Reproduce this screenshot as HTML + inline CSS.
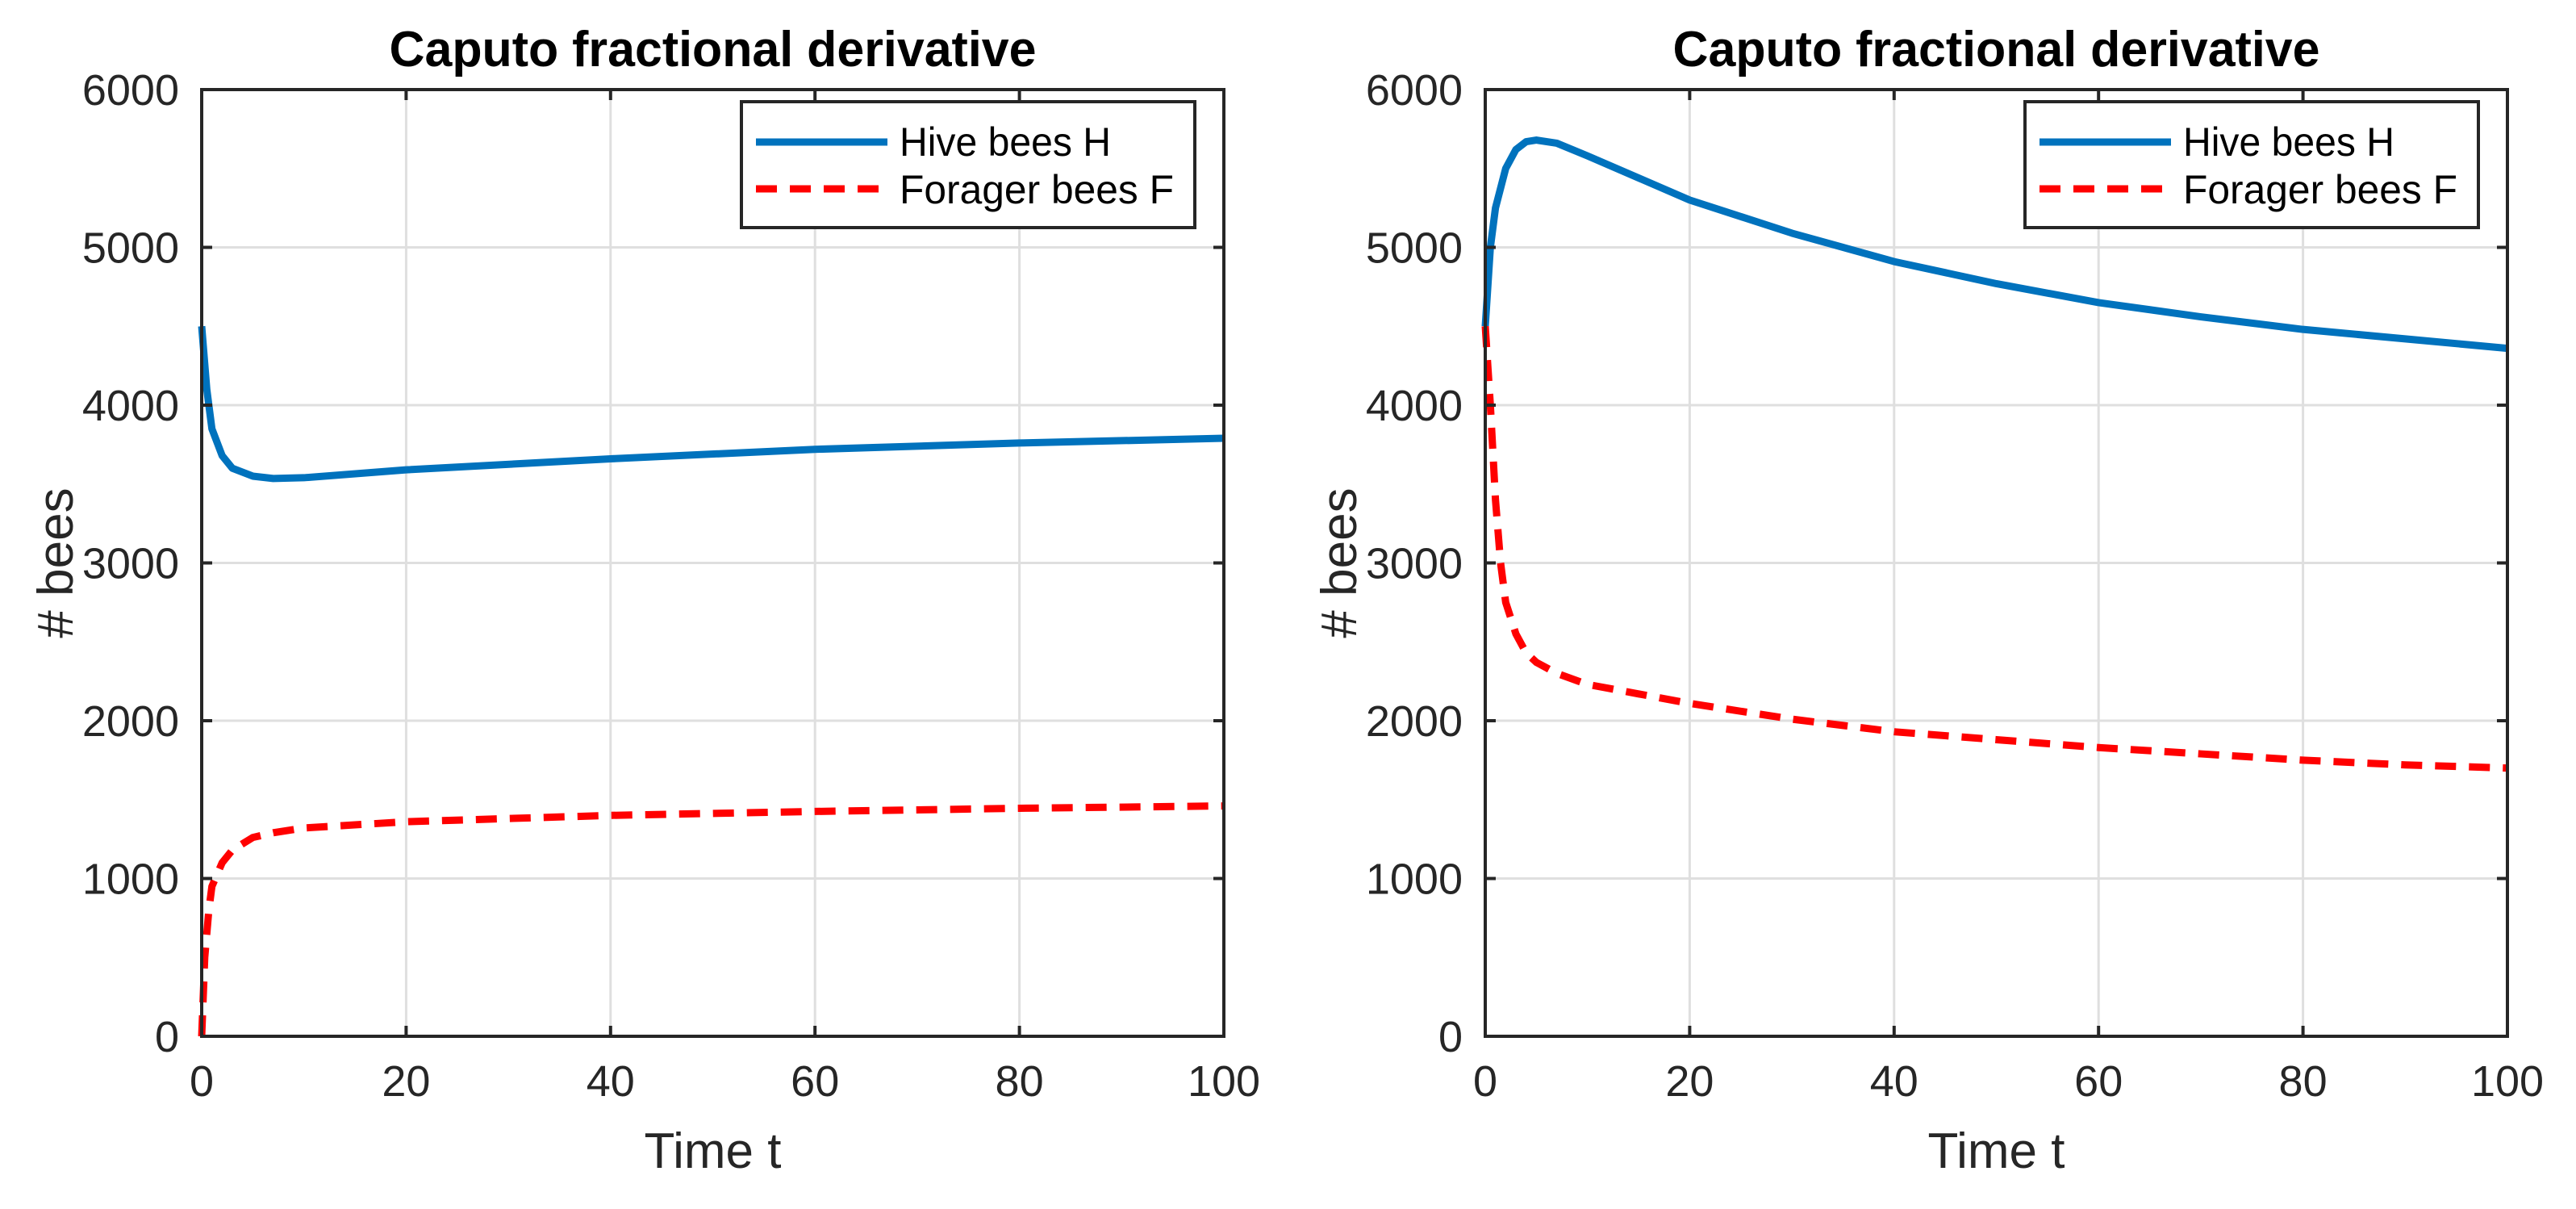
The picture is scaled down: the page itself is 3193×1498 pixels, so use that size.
<!DOCTYPE html>
<html><head><meta charset="utf-8"><style>
html,body{margin:0;padding:0;background:#fff;}
svg{display:block;font-family:"Liberation Sans",Arial,sans-serif;}
</style></head><body>
<svg id="fig" width="3193" height="1498" viewBox="0 0 3193 1498" xmlns="http://www.w3.org/2000/svg"></svg>
<script>
const xTicks=[0,20,40,60,80,100];
const yTicks=[0,1000,2000,3000,4000,5000,6000];
const leftT_H=[0,0.5,1,2,3,5,7,10,20,40,60,80,100];
const leftH=[4500,4100,3850,3680,3600,3550,3535,3540,3590,3660,3720,3760,3790];
const leftT_F=[0,0.3,0.7,1,2,3,5,7,10,20,40,60,80,100];
const leftF=[0,500,800,950,1100,1180,1260,1290,1320,1360,1400,1425,1445,1460];
const rightT_H=[0,0.5,1,2,3,4,5,7,10,15,20,30,40,50,60,70,80,90,100];
const rightH=[4500,5000,5250,5500,5620,5670,5680,5660,5580,5440,5300,5090,4910,4770,4650,4560,4480,4420,4360];
const rightT_F=[0,0.5,1,1.5,2,3,4,5,7,10,15,20,30,40,50,60,70,80,90,100];
const rightF=[4500,4000,3400,3000,2750,2550,2430,2370,2300,2230,2170,2110,2010,1930,1880,1830,1790,1750,1720,1700];

const NS="http://www.w3.org/2000/svg";
const svg=document.getElementById('fig');
function mk(tag,attrs,parent){const e=document.createElementNS(NS,tag);for(const k in attrs)e.setAttribute(k,attrs[k]);(parent||svg).appendChild(e);return e;}

function panel(px,name,tH,H,tF,F){
  const L=px,R=px+1267,T=111,B=1284;
  const xs=v=>L+(v-0)/100*(R-L);
  const ys=v=>B-(v-0)/6000*(B-T);
  const g=mk('g',{});
  
  
  xTicks.forEach(v=>{const l=mk('line',{x1:xs(v),x2:xs(v),y1:T,y2:B,stroke:'#dfdfdf','stroke-width':3},g);
    });
  yTicks.forEach(v=>{const l=mk('line',{x1:L,x2:R,y1:ys(v),y2:ys(v),stroke:'#dfdfdf','stroke-width':3},g);
    });
  const hp=mk('polyline',{points:tH.map((t,i)=>xs(t)+','+ys(H[i])).join(' '),fill:'none',stroke:'#0072BD','stroke-width':9,'stroke-linejoin':'round'},g);
  
  const fp=mk('polyline',{points:tF.map((t,i)=>xs(t)+','+ys(F[i])).join(' '),fill:'none',stroke:'#FF0000','stroke-width':9,'stroke-dasharray':'26 16'},g);
  
  const bx=mk('rect',{x:L,y:T,width:R-L,height:B-T,fill:'none',stroke:'#262626','stroke-width':4},g);
  
  xTicks.forEach(v=>{
    mk('line',{x1:xs(v),x2:xs(v),y1:B,y2:B-13,stroke:'#262626','stroke-width':4},g);
    mk('line',{x1:xs(v),x2:xs(v),y1:T,y2:T+13,stroke:'#262626','stroke-width':4},g);
    const t=mk('text',{x:xs(v),y:1358,'text-anchor':'middle','font-size':54,fill:'#262626'},g);t.textContent=v;
    
  });
  yTicks.forEach(v=>{
    mk('line',{x1:L,x2:L+13,y1:ys(v),y2:ys(v),stroke:'#262626','stroke-width':4},g);
    mk('line',{x1:R,x2:R-13,y1:ys(v),y2:ys(v),stroke:'#262626','stroke-width':4},g);
    const t=mk('text',{x:L-28,y:ys(v)+19,'text-anchor':'end','font-size':54,fill:'#262626'},g);t.textContent=v;
    
  });
  const ti=mk('text',{x:(L+R)/2,y:82,'text-anchor':'middle','font-size':62,'font-weight':'bold',fill:'#000',textLength:802,lengthAdjust:'spacingAndGlyphs'},g);
  ti.textContent='Caputo fractional derivative';
  
  const xl=mk('text',{x:(L+R)/2,y:1447,'text-anchor':'middle','font-size':62,fill:'#262626'},g);xl.textContent='Time t';
  
  const yl=mk('text',{x:0,y:0,'text-anchor':'middle','font-size':62,fill:'#262626',transform:`translate(${L-160},${(T+B)/2}) rotate(-90)`},g);yl.textContent='# bees';
  
  const lx=R-598,ly=126,lw=562,lh=156;
  const lg=mk('g',{},g);
  
  mk('rect',{x:lx,y:ly,width:lw,height:lh,fill:'#fff',stroke:'#262626','stroke-width':4},lg);
  mk('line',{x1:lx+18,x2:lx+181,y1:ly+50,y2:ly+50,stroke:'#0072BD','stroke-width':9},lg);
  const t1=mk('text',{x:lx+196,y:ly+67,'font-size':50,fill:'#000',textLength:262,lengthAdjust:'spacingAndGlyphs'},lg);t1.textContent='Hive bees H';
  
  mk('line',{x1:lx+18,x2:lx+181,y1:ly+108,y2:ly+108,stroke:'#FF0000','stroke-width':9,'stroke-dasharray':'26 16'},lg);
  const t2=mk('text',{x:lx+196,y:ly+126,'font-size':50,fill:'#000',textLength:340,lengthAdjust:'spacingAndGlyphs'},lg);t2.textContent='Forager bees F';
  
}
panel(250,'left-chart',leftT_H,leftH,leftT_F,leftF);
panel(1841,'right-chart',rightT_H,rightH,rightT_F,rightF);
</script>
</body></html>
